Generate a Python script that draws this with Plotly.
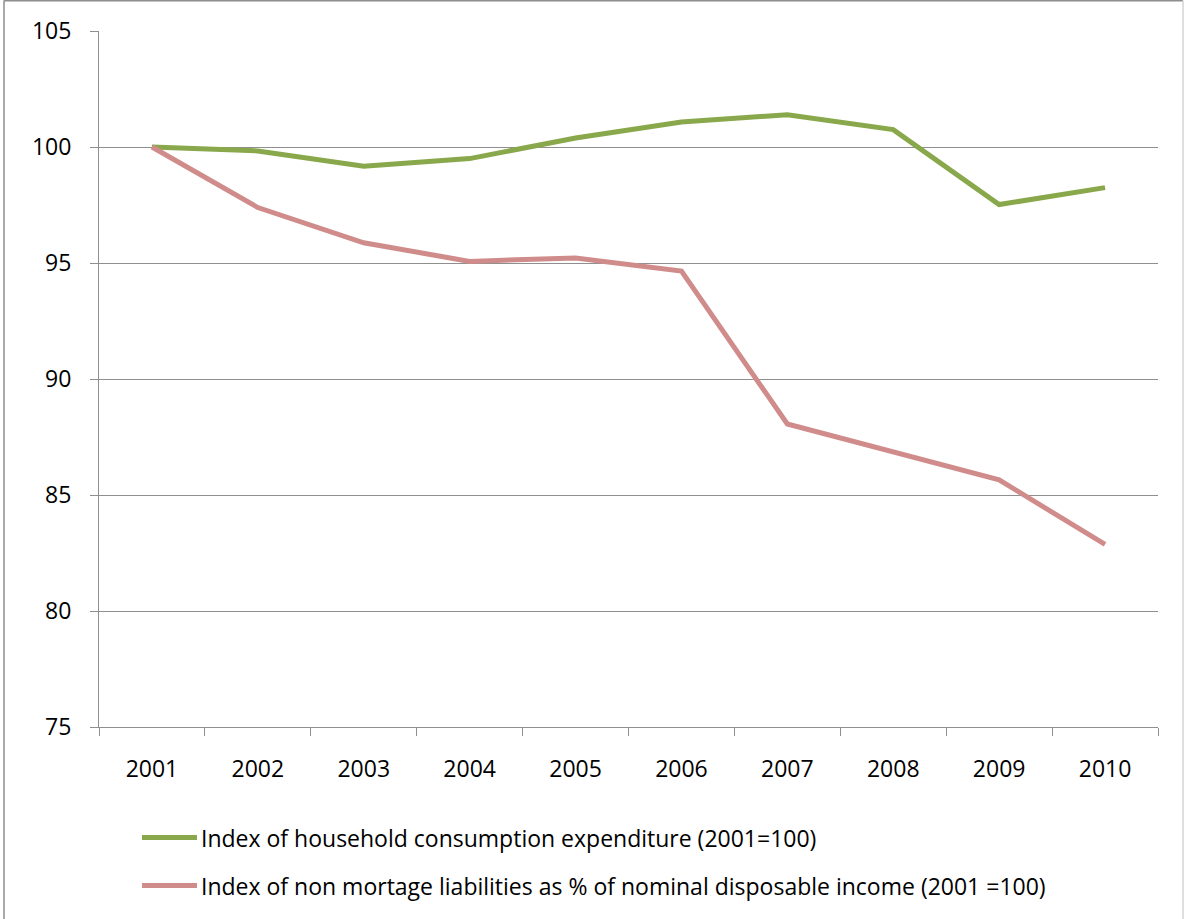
import plotly.graph_objects as go

# Category axis and the two index series (2001 = 100)
years = ["2001", "2002", "2003", "2004", "2005", "2006", "2007", "2008", "2009", "2010"]
consumption_index = [100.0, 99.83, 99.17, 99.50, 100.39, 101.08, 101.39, 100.75, 97.52, 98.25]
liabilities_index = [100.0, 97.39, 95.87, 95.07, 95.22, 94.65, 88.06, 86.86, 85.65, 82.87]

series_names = [
    "Index of household consumption expenditure (2001=100)",
    "Index of non mortage liabilities as % of nominal disposable income (2001 =100)",
]
series_colors = ["#89A84B", "#D08C8B"]
y_ticks = [75, 80, 85, 90, 95, 100, 105]

W, H = 1184, 919
L, R, T, B = 99, 26, 31, 192
FONT = "Open Sans"
FSIZE = 23
GRID = "#8F8F8F"

fig = go.Figure()
for name, vals, col in zip(series_names, [consumption_index, liabilities_index], series_colors):
    fig.add_trace(go.Scatter(
        x=years, y=vals, name=name, mode="lines",
        line=dict(color=col, width=5),
        showlegend=False,
    ))

# pixel -> paper helpers for the hand-drawn legend and frame
pw, ph = W - L - R, H - T - B
def px(x):
    return (x - L) / pw
def py(y):
    return (H - B - y) / ph

shapes = []
annotations = []
legend_rows = [837.5, 885.5]
for name, col, yy in zip(series_names, series_colors, legend_rows):
    shapes.append(dict(type="line", xref="paper", yref="paper",
                       x0=px(142), x1=px(197), y0=py(yy), y1=py(yy),
                       line=dict(color=col, width=5)))
    annotations.append(dict(xref="paper", yref="paper", x=px(199), y=py(yy),
                            xanchor="left", yanchor="middle", showarrow=False,
                            text=name, font=dict(family=FONT, size=FSIZE, color="#000000")))

# chart frame
shapes += [
    dict(type="line", xref="paper", yref="paper", x0=px(4), x1=px(4), y0=py(0.5), y1=py(930),
         line=dict(color="#8E8E8E", width=1.5)),
    dict(type="line", xref="paper", yref="paper", x0=px(4), x1=px(1183), y0=py(0.8), y1=py(0.8),
         line=dict(color="#8E8E8E", width=1.5)),
    dict(type="line", xref="paper", yref="paper", x0=px(1183), x1=px(1183), y0=py(0.5), y1=py(930),
         line=dict(color="#D4D4D4", width=1.5)),
]

fig.update_layout(
    width=W, height=H,
    margin=dict(l=L, r=R, t=T, b=B),
    paper_bgcolor="white", plot_bgcolor="white",
    font=dict(family=FONT, size=FSIZE, color="#000000"),
    shapes=shapes, annotations=annotations,
)
fig.update_xaxes(
    type="category", tickson="boundaries", ticks="outside", ticklen=8,
    tickcolor=GRID, tickwidth=1, showline=True, linecolor=GRID, linewidth=1,
    showgrid=False, ticklabelstandoff=21, range=[-0.5, 9.5],
    tickfont=dict(family=FONT, size=FSIZE, color="#000000"),
)
fig.update_yaxes(
    range=[75, 105], tickvals=y_ticks, ticks="outside", ticklen=8,
    tickcolor=GRID, tickwidth=1, showline=True, linecolor=GRID, linewidth=1,
    showgrid=True, gridcolor=GRID, gridwidth=1, zeroline=False,
    ticklabelstandoff=14,
    tickfont=dict(family=FONT, size=FSIZE, color="#000000"),
)

fig.write_html("out.html")
